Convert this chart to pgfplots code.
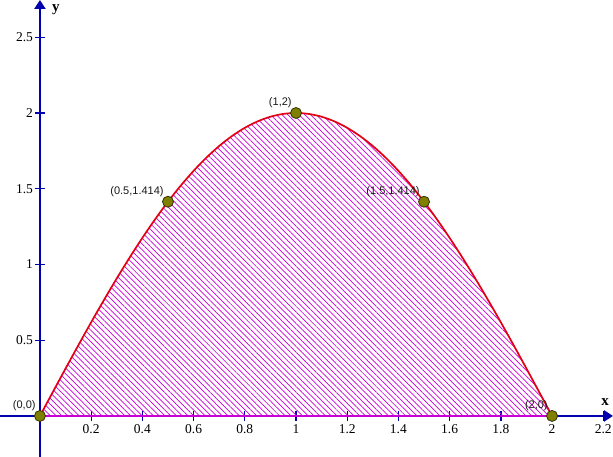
\documentclass[border=0pt]{standalone}
\usepackage{pgfplots}
\pgfplotsset{compat=1.18}
\usepackage{fontspec}
\setmainfont{Liberation Serif}
\newfontfamily\labelfont{Liberation Sans}
\usetikzlibrary{arrows.meta,patterns.meta}
\definecolor{axisblue}{RGB}{0,0,175}
\definecolor{curvered}{RGB}{225,0,20}
\definecolor{hatch}{RGB}{200,0,215}
\definecolor{olivept}{RGB}{128,128,0}
\definecolor{oliveedge}{RGB}{50,50,0}
\begin{document}
\begin{tikzpicture}
\begin{axis}[
  name=ax,
  width=613pt, height=457pt, scale only axis,
  xmin=-0.156, xmax=2.238, ymin=-0.271, ymax=2.746,
  axis lines=middle,
  axis line style={axisblue, line width=2.6pt, -{Triangle[length=9pt,width=11pt]}},
  xtick={0.2,0.4,0.6,0.8,1,1.2,1.4,1.6,1.8,2,2.2},
  ytick={0.5,1,1.5,2,2.5},
  xticklabels={0.2,0.4,0.6,0.8,1,1.2,1.4,1.6,1.8,2,2.2},
  yticklabels={0.5,1,1.5,2,2.5},
  tick align=center, major tick length=10pt,
  tick style={axisblue, line width=1.3pt},
  tick label style={font=\fontsize{13.5}{15}\selectfont},
  xticklabel style={yshift=0pt},
  yticklabel style={xshift=1.5pt},
  xlabel={\textbf{x}}, ylabel={\textbf{y}},
  x label style={at={(axis cs:2.207,0.092)}, anchor=center, font=\fontsize{15}{17}\selectfont},
  y label style={at={(axis cs:0.062,2.68)}, anchor=center, font=\fontsize{15}{17}\selectfont},
  clip=false,
]
\addplot[draw=none, pattern={Lines[angle=-45, distance=4.05pt, line width=0.7pt]}, pattern color=hatch] coordinates {
(0,0) (0.05,0.15692) (0.1,0.31287) (0.15,0.46689) (0.2,0.61803) (0.25,0.76537)
(0.3,0.90798) (0.35,1.04500) (0.4,1.17557) (0.45,1.29890) (0.5,1.41421)
(0.55,1.52081) (0.6,1.61803) (0.65,1.70528) (0.7,1.78201) (0.75,1.84776)
(0.8,1.90211) (0.85,1.94474) (0.9,1.97538) (0.95,1.99383) (1,2)
(1.05,1.99383) (1.1,1.97538) (1.15,1.94474) (1.2,1.90211) (1.25,1.84776)
(1.3,1.78201) (1.35,1.70528) (1.4,1.61803) (1.45,1.52081) (1.5,1.41421)
(1.55,1.29890) (1.6,1.17557) (1.65,1.04500) (1.7,0.90798) (1.75,0.76537)
(1.8,0.61803) (1.85,0.46689) (1.9,0.31287) (1.95,0.15692) (2,0)
} \closedcycle;
\addplot[hatch, line width=1.8pt] coordinates {(0,0) (2,0)};
\addplot[curvered, line width=1.7pt, smooth] coordinates {
(0,0) (0.05,0.15692) (0.1,0.31287) (0.15,0.46689) (0.2,0.61803) (0.25,0.76537)
(0.3,0.90798) (0.35,1.04500) (0.4,1.17557) (0.45,1.29890) (0.5,1.41421)
(0.55,1.52081) (0.6,1.61803) (0.65,1.70528) (0.7,1.78201) (0.75,1.84776)
(0.8,1.90211) (0.85,1.94474) (0.9,1.97538) (0.95,1.99383) (1,2)
(1.05,1.99383) (1.1,1.97538) (1.15,1.94474) (1.2,1.90211) (1.25,1.84776)
(1.3,1.78201) (1.35,1.70528) (1.4,1.61803) (1.45,1.52081) (1.5,1.41421)
(1.55,1.29890) (1.6,1.17557) (1.65,1.04500) (1.7,0.90798) (1.75,0.76537)
(1.8,0.61803) (1.85,0.46689) (1.9,0.31287) (1.95,0.15692) (2,0)
};
\addplot[only marks, mark=*, mark size=5.5pt,
  mark options={fill=olivept, draw=oliveedge, line width=0.8pt},
  point meta=explicit symbolic,
  nodes near coords,
  nodes near coords style={anchor=south east, inner sep=0pt, xshift=-4pt, yshift=5pt,
    font=\labelfont\fontsize{11}{13}\selectfont, text=black!90}]
  table[meta=label] {
x y label
0 0 (0,0)
0.5 1.41421 (0.5,1.414)
1 2 (1,2)
1.5 1.41421 (1.5,1.414)
2 0 (2,0)
};
\end{axis}
\pgfresetboundingbox
\path (ax.south west) rectangle (ax.north east);
\end{tikzpicture}
\end{document}
